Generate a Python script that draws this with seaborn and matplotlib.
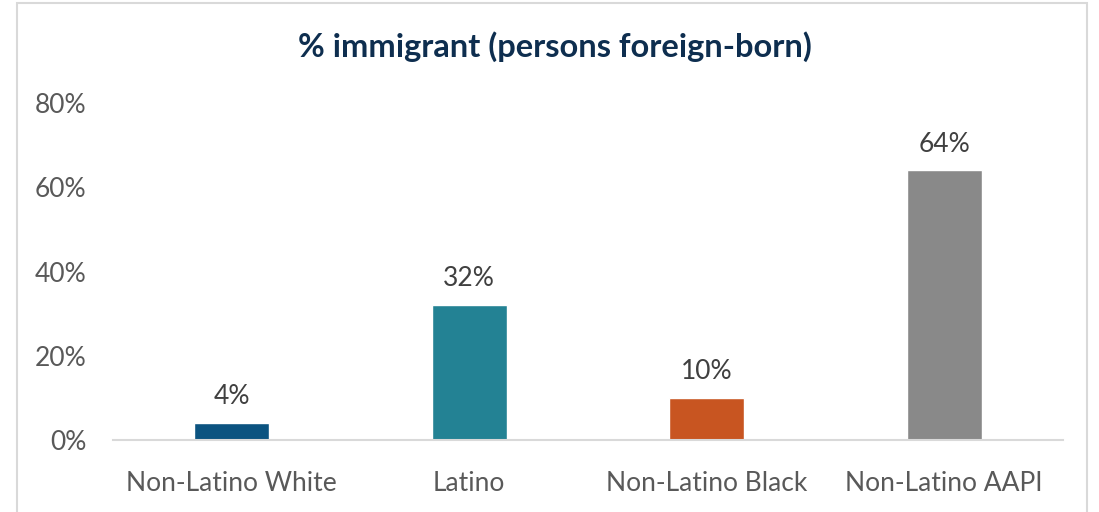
import pandas as pd
import seaborn as sns
import matplotlib.pyplot as plt
from matplotlib.patches import Rectangle

groups = ['Non-Latino White', 'Latino', 'Non-Latino Black', 'Non-Latino AAPI']
pct_foreign_born = [4, 32, 10, 64]
bar_colors = ['#0B5380', '#238294', '#C85521', '#898989']
y_ticks = [0, 20, 40, 60, 80]

df = pd.DataFrame({'group': groups, 'pct': pct_foreign_born})

sns.set_style('white')
plt.rcParams['font.family'] = ['Lato', 'DejaVu Sans']

fig = plt.figure(figsize=(10.99, 5.12), dpi=100)
ax = fig.add_axes([0.1028, 0.1406, 0.8644, 0.6582])

sns.barplot(data=df, x='group', y='pct', hue='group', palette=bar_colors,
            width=0.316, legend=False, ax=ax, saturation=1)

ax.set_ylim(0, 80)
ax.set_xlim(-0.5, 3.5)
ax.set_yticks(y_ticks)
ax.set_yticklabels([f'{t}%' for t in y_ticks])
ax.tick_params(axis='both', length=0, labelsize=19, colors='#595959')
ax.tick_params(axis='y', pad=19)
ax.tick_params(axis='x', pad=22)
ax.set_xlabel('')
ax.set_ylabel('')

for s in ['top', 'right', 'left']:
    ax.spines[s].set_visible(False)
ax.spines['bottom'].set_color('#D9D9D9')
ax.spines['bottom'].set_linewidth(1.5)

for i, v in enumerate(pct_foreign_born):
    ax.annotate(f'{v}%', (i, v), xytext=(0, 10), textcoords='offset points',
                ha='center', va='bottom', fontsize=19, color='#404040')

fig.text(0.505, 0.908, '% immigrant (persons foreign-born)', ha='center', va='center',
         fontsize=23.5, fontweight='bold', color='#0E2E4F')

fig.patches.append(Rectangle((17 / 1099, -0.05), (1087 - 17) / 1099, 1.05 - 3 / 512,
                             transform=fig.transFigure, fill=False,
                             edgecolor='#D9D9D9', linewidth=1.5))

plt.savefig('out.png', dpi=100)
